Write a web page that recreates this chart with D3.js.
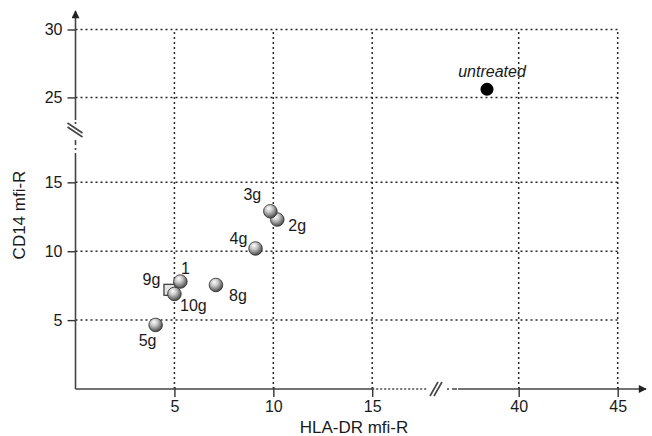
<!DOCTYPE html>
<html>
<head>
<meta charset="utf-8">
<script src="https://d3js.org/d3.v7.min.js"></script>
<style>
  body { margin: 0; background: #fff; }
  .chart text { font-family: "Liberation Sans", Arial, sans-serif; fill: #1a1a1a; }
  .grid line { stroke: #2a2a2a; stroke-width: 1.5; stroke-dasharray: 2,3; }
  .axisline { stroke: #444; stroke-width: 1.6; fill: none; }
</style>
</head>
<body>
<svg class="chart"></svg>
<script>
// samples (x = HLA-DR mfi-R, y = CD14 mfi-R)
const labels = ["untreated", "1", "2g", "3g", "4g", "5g", "8g", "9g", "10g"];
const hlaDR  = [38.4, 5.3, 10.2, 9.85, 9.1, 4.05, 7.1, 4.75, 5.0];
const cd14   = [25.6, 7.8, 12.3, 12.9, 10.2, 4.65, 7.55, 7.2, 6.9];
const xTicks = [5, 10, 15, 40, 45];
const yTicks = [5, 10, 15, 25, 30];

// marker kind per label and label offsets (layout only)
const markerKind = { "untreated": "dot", "9g": "square" };
const labelOffset = {
  "untreated": [5, -18], "1": [5, -13], "2g": [20, 6], "3g": [-18, -17],
  "4g": [-17, -10], "5g": [-8, 15], "8g": [22, 10], "9g": [-18, -10], "10g": [19, 11]
};

const width = 652, height = 436;
const svg = d3.select(".chart").attr("width", width).attr("height", height);

// broken axes -> piecewise linear scales, the gap collapses to the break mark
const x = d3.scaleLinear().domain([0, 18.3, 35.9, 45]).range([75.5, 437.5, 437.5, 617.7]);
const y = d3.scaleLinear().domain([0, 18.8, 22.6, 30]).range([389, 130, 130, 29.5]);

const defs = svg.append("defs");
const grad = defs.append("radialGradient").attr("id", "ball")
  .attr("cx", "40%").attr("cy", "35%").attr("r", "65%").attr("fx", "38%").attr("fy", "28%");
grad.append("stop").attr("offset", "0%").attr("stop-color", "#ffffff");
grad.append("stop").attr("offset", "40%").attr("stop-color", "#c8c8c8");
grad.append("stop").attr("offset", "100%").attr("stop-color", "#4a4a4a");
defs.append("marker").attr("id", "arrow").attr("viewBox", "0 0 10 10")
  .attr("refX", 9).attr("refY", 5).attr("markerWidth", 10).attr("markerHeight", 8)
  .attr("markerUnits", "userSpaceOnUse").attr("orient", "auto")
  .append("path").attr("d", "M0,0L10,5L0,10z").attr("fill", "#222");

// grid
const grid = svg.append("g").attr("class", "grid");
grid.selectAll(".gx").data(xTicks).enter().append("line")
  .attr("x1", d => x(d)).attr("x2", d => x(d))
  .attr("y1", y(0)).attr("y2", y(30));
grid.selectAll(".gy").data(yTicks).enter().append("line")
  .attr("x1", x(0)).attr("x2", x(45))
  .attr("y1", d => y(d)).attr("y2", d => y(d));

// axes (ticks + labels from d3, axis lines drawn with breaks)
const xAxis = svg.append("g").attr("transform", `translate(0,${y(0)})`)
  .call(d3.axisBottom(x).tickValues(xTicks).tickSize(8).tickPadding(4));
const yAxis = svg.append("g").attr("transform", `translate(${x(0)},0)`)
  .call(d3.axisLeft(y).tickValues(yTicks).tickSize(8).tickPadding(5));
[xAxis, yAxis].forEach(a => {
  a.select(".domain").remove();
  a.selectAll(".tick line").attr("stroke", "#333").attr("stroke-width", 1.4);
  a.selectAll(".tick text").style("font-size", "16px").attr("fill", "#1a1a1a");
});
xAxis.selectAll(".tick line").attr("y1", -2);

const ax = svg.append("g");
const y0 = y(0), x0 = x(0);
// x axis
ax.append("line").attr("class", "axisline").attr("x1", x0).attr("x2", x(15)).attr("y1", y0).attr("y2", y0);
ax.append("line").attr("class", "axisline").attr("x1", x(15)).attr("x2", 428).attr("y1", y0).attr("y2", y0)
  .attr("stroke-dasharray", "2,2").attr("stroke-width", 1.2);
ax.append("line").attr("class", "axisline").attr("x1", 447).attr("x2", 458).attr("y1", y0).attr("y2", y0)
  .attr("stroke-dasharray", "2,3,5,2");
ax.append("line").attr("class", "axisline").attr("x1", 458).attr("x2", 646).attr("y1", y0).attr("y2", y0)
  .attr("marker-end", "url(#arrow)");
[-2, 2].forEach(o => ax.append("line").attr("class", "axisline").attr("stroke-width", 1.2)
  .attr("x1", 432 + o).attr("x2", 440 + o).attr("y1", y0 + 7).attr("y2", y0 - 7));
// y axis
ax.append("line").attr("class", "axisline").attr("x1", x0).attr("x2", x0).attr("y1", y0).attr("y2", 158);
ax.append("line").attr("class", "axisline").attr("x1", x0).attr("x2", x0).attr("y1", 158).attr("y2", 138)
  .attr("stroke-dasharray", "5,3,2,3");
ax.append("line").attr("class", "axisline").attr("x1", x0).attr("x2", x0).attr("y1", 124).attr("y2", 118)
  .attr("stroke-dasharray", "2,2");
ax.append("line").attr("class", "axisline").attr("x1", x0).attr("x2", x0).attr("y1", 118).attr("y2", 11)
  .attr("marker-end", "url(#arrow)");
[-2, 2].forEach(o => ax.append("line").attr("class", "axisline").attr("stroke-width", 1.2)
  .attr("x1", x0 - 8).attr("x2", x0 + 7).attr("y1", 125 + o).attr("y2", 135 + o));

// titles
svg.append("text").attr("x", 354).attr("y", 433).attr("text-anchor", "middle")
  .style("font-size", "17px").text("HLA-DR mfi-R");
svg.append("text").attr("transform", "translate(25,215) rotate(-90)").attr("text-anchor", "middle")
  .style("font-size", "17px").text("CD14 mfi-R");

// points
const pts = labels.map((l, i) => ({ label: l, x: hlaDR[i], y: cd14[i], kind: markerKind[l] || "ball" }));
const order = ["square", "ball", "dot"];
const marks = svg.append("g").selectAll("g")
  .data(pts.slice().sort((a, b) => order.indexOf(a.kind) - order.indexOf(b.kind)))
  .enter().append("g")
  .attr("transform", d => `translate(${x(d.x)},${y(d.y)})`);
marks.filter(d => d.kind === "square").append("rect")
  .attr("x", -5.5).attr("y", -5.5).attr("width", 11).attr("height", 11)
  .attr("fill", "#e4e4e4").attr("stroke", "#333").attr("stroke-width", 1.2);
marks.filter(d => d.kind === "ball").append("circle")
  .attr("r", 6.8).attr("fill", "url(#ball)").attr("stroke", "#2a2a2a").attr("stroke-width", 0.8);
marks.filter(d => d.kind === "dot").append("circle")
  .attr("r", 6.5).attr("fill", "#000");

svg.append("g").selectAll("text").data(pts).enter().append("text")
  .attr("x", d => x(d.x) + labelOffset[d.label][0])
  .attr("y", d => y(d.y) + labelOffset[d.label][1])
  .attr("dy", "0.35em").attr("text-anchor", "middle")
  .style("font-size", "16px")
  .style("font-style", d => d.kind === "dot" ? "italic" : "normal")
  .text(d => d.label);
</script>
</body>
</html>
